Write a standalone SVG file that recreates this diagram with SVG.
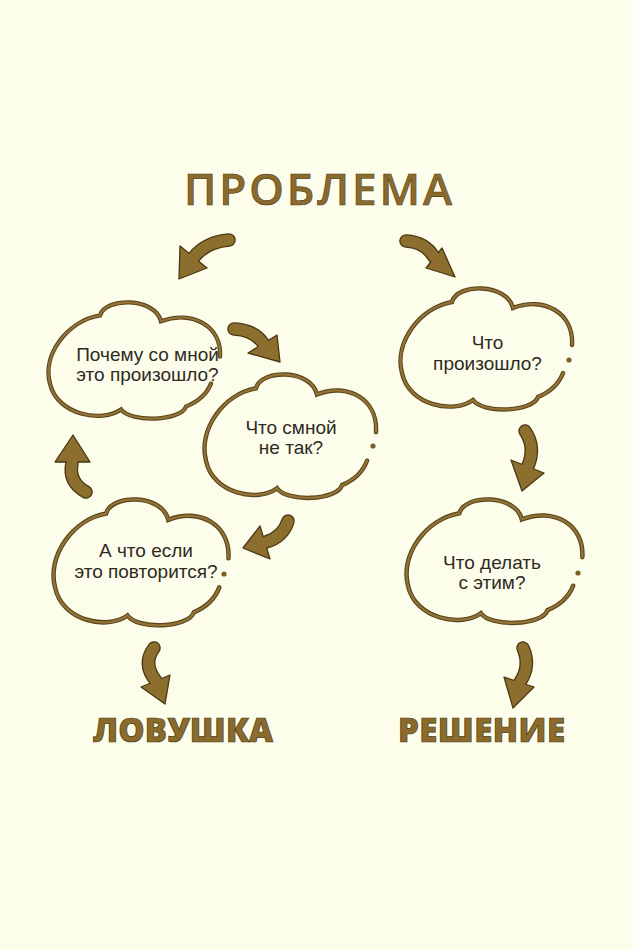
<svg xmlns="http://www.w3.org/2000/svg" width="633" height="950" viewBox="0 0 633 950">
  <defs>
    <style>
      .bg { fill: #fdfdec; }
      .cloud-o { fill: none; stroke: #5a4519; stroke-width: 4.4; vector-effect: non-scaling-stroke; stroke-linecap: round; }
      .cloud-i { fill: none; stroke: #937438; stroke-width: 2.2; vector-effect: non-scaling-stroke; stroke-linecap: round; }
      .dot { fill: #7a5f27; }
      .ctext { font-family: "Liberation Sans", Arial, sans-serif; font-size: 19px; fill: #2e2b23; text-anchor: middle; }
      .title { font-family: "Open Sans", "Liberation Sans", sans-serif; font-weight: 600; font-size: 44px; fill: #8a6b2c; stroke: #4b3913; stroke-width: 0.6; text-anchor: middle; }
      .outcome { font-family: "Open Sans", "Liberation Sans", sans-serif; font-weight: 800; font-size: 33px; fill: #8a6b2c; stroke: #4b3913; stroke-width: 0.7; text-anchor: middle; }
      .shaft-o { fill: none; stroke: #4a3912; stroke-width: 13.6; stroke-linecap: round; }
      .shaft-i { fill: none; stroke: #8c6e2e; stroke-width: 11; stroke-linecap: round; }
      .head { fill: #8c6e2e; stroke: #4a3912; stroke-width: 1.3; stroke-linejoin: round; }
    </style>
    <path id="cloud" d="M 164 85 Q 158 101 139 109 C 134 124 84 126 74 112 C 55 126 10 118 3 85 C -5 55 20 20 53 14 C 58 -5 108 -5 114 20 C 145 8 175 25 173 57"/>
  </defs>

  <rect class="bg" x="0" y="0" width="633" height="950"/>

  <g id="node-problem">
    <text class="title" x="318" y="205" textLength="268" lengthAdjust="spacing">ПРОБЛЕМА</text>
  </g>

  <g id="node-cloud-why">
    <g transform="translate(47,302) scale(1,0.96)">
      <use href="#cloud" class="cloud-o"/>
      <use href="#cloud" class="cloud-i"/>
    </g>
    <text class="ctext" x="147.5" y="361">Почему со мной</text>
    <text class="ctext" x="147.5" y="381">это произошло?</text>
  </g>

  <g id="node-cloud-wrong">
    <g transform="translate(203,374) scale(1,1.02)">
      <use href="#cloud" class="cloud-o"/>
      <use href="#cloud" class="cloud-i"/>
    </g>
    <circle class="dot" cx="373" cy="446" r="2.6"/>
    <text class="ctext" x="291" y="434">Что смной</text>
    <text class="ctext" x="291" y="454">не так?</text>
  </g>

  <g id="node-cloud-what">
    <g transform="translate(399,288)">
      <use href="#cloud" class="cloud-o"/>
      <use href="#cloud" class="cloud-i"/>
    </g>
    <circle class="dot" cx="569" cy="360" r="2.6"/>
    <text class="ctext" x="487.5" y="349">Что</text>
    <text class="ctext" x="487.5" y="370">произошло?</text>
  </g>

  <g id="node-cloud-whatif">
    <g transform="translate(52,499) scale(1.02,1.04)">
      <use href="#cloud" class="cloud-o"/>
      <use href="#cloud" class="cloud-i"/>
    </g>
    <circle class="dot" cx="224" cy="574" r="2.6"/>
    <text class="ctext" x="146" y="557">А что если</text>
    <text class="ctext" x="146" y="578">это повторится?</text>
  </g>

  <g id="node-cloud-todo">
    <g transform="translate(405,499) scale(1.025,1.02)">
      <use href="#cloud" class="cloud-o"/>
      <use href="#cloud" class="cloud-i"/>
    </g>
    <circle class="dot" cx="578" cy="573" r="2.6"/>
    <text class="ctext" x="492" y="569">Что делать</text>
    <text class="ctext" x="492" y="589">с этим?</text>
  </g>

  <g id="node-trap">
    <text class="outcome" x="183" y="742" textLength="180" lengthAdjust="spacing">ЛОВУШКА</text>
  </g>

  <g id="node-solution">
    <text class="outcome" x="481.5" y="742" textLength="167" lengthAdjust="spacing">РЕШЕНИЕ</text>
  </g>

  <g id="connectors">
    <g id="arrow-problem-why">
      <path class="shaft-o" d="M 229 240 Q 206 242 194 257"/>
      <polygon class="head" points="180,246 207,268 179,279"/>
      <path class="shaft-i" d="M 229 240 Q 206 242 194 257"/>
    </g>
    <g id="arrow-problem-what">
      <path class="shaft-o" d="M 406 241 Q 425 242 434 257"/>
      <polygon class="head" points="442,248 426,268 455,277"/>
      <path class="shaft-i" d="M 406 241 Q 425 242 434 257"/>
    </g>
    <g id="arrow-why-wrong">
      <path class="shaft-o" d="M 234 329 Q 254 330 263 343"/>
      <polygon class="head" points="248,353 277,335 280,362"/>
      <path class="shaft-i" d="M 234 329 Q 254 330 263 343"/>
    </g>
    <g id="arrow-whatif-why">
      <path class="shaft-o" d="M 86 492 Q 68 482 72 463"/>
      <polygon class="head" points="55,462 90,462 73,435"/>
      <path class="shaft-i" d="M 86 492 Q 68 482 72 463"/>
    </g>
    <g id="arrow-wrong-whatif">
      <path class="shaft-o" d="M 288 521 Q 283 537 266 542"/>
      <polygon class="head" points="260,526 270,559 243,548"/>
      <path class="shaft-i" d="M 288 521 Q 283 537 266 542"/>
    </g>
    <g id="arrow-whatif-trap">
      <path class="shaft-o" d="M 154 648 Q 142 664 156 681"/>
      <polygon class="head" points="141,687 170,675 165,704"/>
      <path class="shaft-i" d="M 154 648 Q 142 664 156 681"/>
    </g>
    <g id="arrow-what-todo">
      <path class="shaft-o" d="M 525 431 Q 536 447 528 466"/>
      <polygon class="head" points="511,460 544,473 522,491"/>
      <path class="shaft-i" d="M 525 431 Q 536 447 528 466"/>
    </g>
    <g id="arrow-todo-solution">
      <path class="shaft-o" d="M 523 648 Q 531 666 520 682"/>
      <polygon class="head" points="504,677 534,687 513,708"/>
      <path class="shaft-i" d="M 523 648 Q 531 666 520 682"/>
    </g>
  </g>
</svg>
